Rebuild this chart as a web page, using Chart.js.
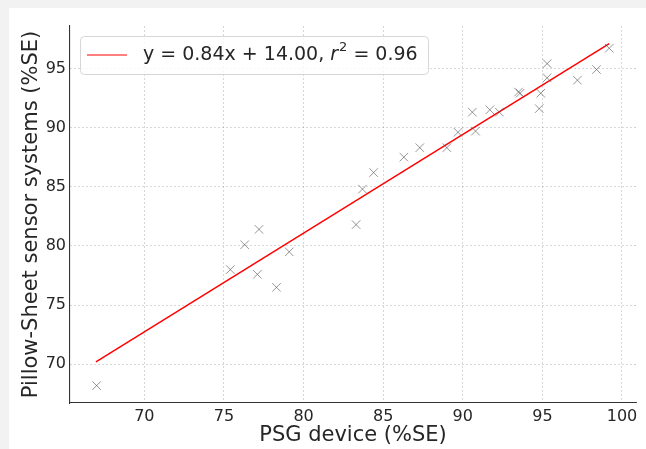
<!DOCTYPE html>
<html>
<head>
<meta charset="utf-8">
<script src="https://cdn.jsdelivr.net/npm/chart.js@4/dist/chart.umd.min.js"></script>
<style>
  html, body { margin: 0; padding: 0; background: #f2f2f2; }
  #wrap { position: absolute; left: 9px; top: 8px; width: 637px; height: 441px; background: #fff; }
</style>
</head>
<body>
<div id="wrap"><canvas id="chart"></canvas></div>
<script>
const psgX = [67.0, 75.4, 76.3, 77.2, 77.1, 78.3, 79.1, 83.3, 83.7, 84.4, 86.3, 87.3, 89.0,
  89.7, 90.8, 90.6, 91.7, 92.3, 93.5, 93.6, 94.9, 94.8, 95.3, 95.3, 97.2, 98.4, 99.2]
const sheetY = [68.2, 78.0, 80.1, 81.4, 77.6, 76.5, 79.5, 81.8, 84.8, 86.2, 87.5, 88.3, 88.3,
  89.6, 89.7, 91.3, 91.5, 91.3, 93.0, 92.9, 92.9, 91.6, 95.4, 94.2, 94.0, 94.9, 96.7]

// regression line end points
const fitX = [66.96, 99.2]
const fitY = [70.2, 97.1]
const legendParts = ['y = 0.84x + 14.00, ', 'r', '2', ' = 0.96']

const xTitle = 'PSG device (%SE)'
const yTitle = 'Pillow-Sheet sensor systems (%SE)'
const xRange = [65.33, 100.88]
const yRange = [66.73, 98.58]

const font = 'DejaVu Sans'
const textColor = '#262626'
const gridColor = 'rgba(0,0,0,0.2)'

const toPoints = (xs, ys) => xs.map((x, i) => ({ x: x, y: ys[i] }))

const legendBox = {
  id: 'legendBox',
  afterDraw: (chart) => {
    const ctx = chart.ctx
    const x = 71, y = 28, w = 348, h = 38, r = 4
    ctx.save()
    ctx.beginPath()
    ctx.roundRect(x + 0.5, y + 0.5, w, h, r)
    ctx.fillStyle = 'rgba(255,255,255,0.8)'
    ctx.fill()
    ctx.strokeStyle = '#d6d6d6'
    ctx.lineWidth = 1
    ctx.stroke()

    const cy = y + h / 2
    ctx.beginPath()
    ctx.moveTo(78, cy)
    ctx.lineTo(118, cy)
    ctx.strokeStyle = '#ff0000'
    ctx.lineWidth = 1.2
    ctx.stroke()

    ctx.fillStyle = textColor
    ctx.textBaseline = 'middle'
    let tx = 134
    ctx.font = `19px "${font}"`
    ctx.fillText(legendParts[0], tx, cy)
    tx += ctx.measureText(legendParts[0]).width
    ctx.font = `italic 19px "${font}"`
    ctx.fillText(legendParts[1], tx, cy)
    tx += ctx.measureText(legendParts[1]).width + 1
    ctx.font = `13px "${font}"`
    ctx.fillText(legendParts[2], tx, cy - 7)
    tx += ctx.measureText(legendParts[2]).width
    ctx.font = `19px "${font}"`
    ctx.fillText(legendParts[3], tx, cy)
    ctx.restore()
  }
}

const axisBase = (min, max, title, pad) => ({
  type: 'linear',
  min: min,
  max: max,
  border: { display: true, color: '#333', width: 1.1, dash: [2, 2] },
  grid: { color: gridColor, lineWidth: 0.8, drawTicks: false },
  ticks: {
    stepSize: 5,
    includeBounds: false,
    autoSkip: false,
    color: textColor,
    padding: 4,
    font: { family: font, size: 16 }
  },
  title: {
    display: true,
    text: title,
    color: textColor,
    padding: pad,
    font: { family: font, size: 21 }
  }
})

const xAxis = axisBase(xRange[0], xRange[1], xTitle, { top: 0, bottom: 1 })
xAxis.afterFit = (scale) => { scale.height = 46 }
const yAxis = axisBase(yRange[0], yRange[1], yTitle, { top: 10, bottom: 0 })
yAxis.afterFit = (scale) => { scale.width = 61 }

new Chart(document.getElementById('chart'), {
  type: 'scatter',
  data: {
    datasets: [{
      label: 'data',
      data: toPoints(psgX, sheetY),
      pointStyle: 'crossRot',
      pointRadius: 6,
      pointHoverRadius: 6,
      borderColor: 'rgba(80,80,80,0.6)',
      borderWidth: 1
    }, {
      label: legendParts.join(''),
      data: toPoints(fitX, fitY),
      showLine: true,
      pointRadius: 0,
      borderColor: '#ff0000',
      borderWidth: 1.5
    }]
  },
  options: {
    responsive: true,
    maintainAspectRatio: false,
    animation: false,
    layout: { padding: { top: 18, right: 10, left: 0, bottom: 0 } },
    scales: { x: xAxis, y: yAxis },
    plugins: {
      legend: { display: false },
      tooltip: { enabled: false }
    }
  },
  plugins: [legendBox]
})
</script>
</body>
</html>
